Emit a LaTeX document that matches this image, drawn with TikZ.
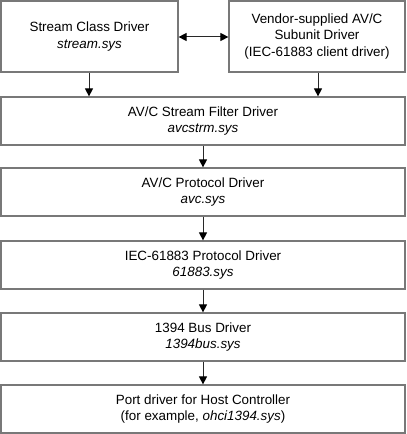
\documentclass[tikz,border=0pt]{standalone}
\usepackage{fontspec}
\setmainfont{Liberation Sans}
\usetikzlibrary{arrows.meta}
\definecolor{boxline}{RGB}{120,120,120}
\definecolor{arrline}{RGB}{40,40,40}
\tikzset{
  drvbox/.style={draw=boxline, line width=1.2pt, fill=white, inner sep=0pt, align=center,
    font=\fontsize{13.4}{16.3}\selectfont, anchor=center},
  flow/.style={draw=arrline, line width=1pt, -{Triangle[width=8pt,length=8pt,color=black]}},
  both/.style={draw=arrline, line width=1pt, {Triangle[width=8pt,length=8pt,color=black]}-{Triangle[width=8pt,length=8pt,color=black]}}
}
\begin{document}
\begin{tikzpicture}[x=1pt,y=1pt]
\useasboundingbox (0,0) rectangle (407,434);
% y = 434 - pixel y
\node[drvbox, minimum width=177pt, minimum height=71pt] (sc) at (89.5,397.5) {Stream Class Driver\\\textit{stream.sys}};
\node[drvbox, minimum width=176pt, minimum height=71pt] (vd) at (317,397.5) {Vendor-supplied AV/C\\Subunit Driver\\(IEC-61883 client driver)};
\node[drvbox, minimum width=404pt, minimum height=48pt] (sf) at (203,313) {AV/C Stream Filter Driver\\\textit{avcstrm.sys}};
\node[drvbox, minimum width=404pt, minimum height=48pt] (avc) at (203,242) {AV/C Protocol Driver\\\textit{avc.sys}};
\node[drvbox, minimum width=404pt, minimum height=48pt] (iec) at (203,169) {IEC-61883 Protocol Driver\\\textit{61883.sys}};
\node[drvbox, minimum width=404pt, minimum height=48pt] (bus) at (203,97) {1394 Bus Driver\\\textit{1394bus.sys}};
\node[drvbox, minimum width=404pt, minimum height=48pt] (port) at (203,25) {Port driver for Host Controller\\(for example, \textit{ohci1394.sys})};
\draw[both] (sc.east |- 0,397) -- (vd.west |- 0,397);
\draw[flow] (sc.south -| 89,0) -- (sf.north -| 89,0);
\draw[flow] (vd.south -| 318,0) -- (sf.north -| 318,0);
\draw[flow] (sf) -- (avc);
\draw[flow] (avc) -- (iec);
\draw[flow] (iec) -- (bus);
\draw[flow] (bus) -- (port);
\end{tikzpicture}
\end{document}
